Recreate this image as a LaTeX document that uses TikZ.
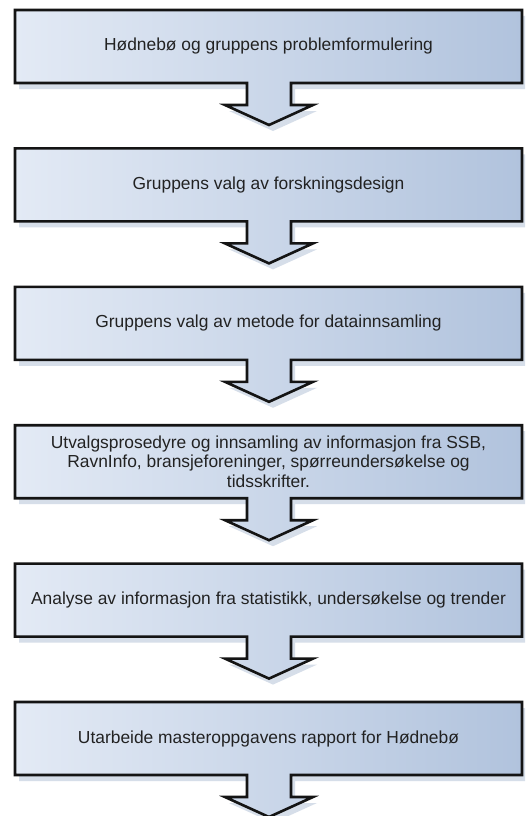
\documentclass[tikz,border=0pt]{standalone}
\usepackage{fontspec}
\setmainfont{Liberation Sans}
\definecolor{boxleft}{HTML}{E3EAF5}
\definecolor{boxright}{HTML}{B1C3DD}
\definecolor{shadowc}{HTML}{D6DEE9}
\definecolor{edgec}{HTML}{141414}
\definecolor{labelc}{HTML}{222222}
\tikzset{
  stepshape/.style={draw=edgec, line width=2.6pt, line join=miter,
    left color=boxleft, right color=boxright},
  stepshadow/.style={fill=shadowc},
  steplabel/.style={font=\fontsize{17.4}{19.5}\selectfont, text=labelc,
    align=center, inner sep=0pt},
}
% outline of one step: box with a down arrow attached below
\newcommand\stepoutline{(15,0) -- (522,0) -- (522,-73) -- (291,-73) -- (291,-95)
  -- (313,-95) -- (269,-115) -- (225,-95) -- (247,-95) -- (247,-73) -- (15,-73) -- cycle}
% #1 top offset, #2 node name, #3 label
\newcommand\flowstep[3]{%
  \begin{scope}[shift={(0,-#1)}]
    \fill[stepshadow, shift={(4,-6)}] \stepoutline;
    \draw[stepshape] \stepoutline;
    \node[steplabel] (#2) at (268.5,-36.5) {#3};
  \end{scope}}
\begin{document}
\begin{tikzpicture}[x=1pt,y=1pt]
  \useasboundingbox (0,0) rectangle (525,-816);
  \clip (0,0) rectangle (525,-816);
  \fill[white] (0,0) rectangle (525,-816);
  \flowstep{10}{s1}{Hødnebø og gruppens problemformulering}
  \flowstep{148.4}{s2}{Gruppens valg av forskningsdesign}
  \flowstep{286.8}{s3}{Gruppens valg av metode for datainnsamling}
  \flowstep{425.2}{s4}{Utvalgsprosedyre og innsamling av informasjon fra SSB,\\
    RavnInfo, bransjeforeninger, spørreundersøkelse og\\ tidsskrifter.}
  \flowstep{563.6}{s5}{Analyse av informasjon fra statistikk, undersøkelse og trender}
  \flowstep{702}{s6}{Utarbeide masteroppgavens rapport for Hødnebø}
\end{tikzpicture}
\end{document}
